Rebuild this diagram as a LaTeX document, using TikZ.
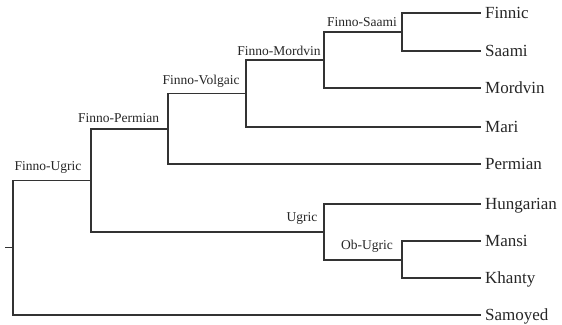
\documentclass[tikz,border=0pt]{standalone}
\usepackage{fontspec}
\setmainfont{Liberation Serif}
\begin{document}
\begin{tikzpicture}[x=1pt,y=-1pt,
  edge/.style={draw=black!80,line width=1.1pt,line cap=rect},
  leaf/.style={anchor=west,inner xsep=5pt,inner ysep=0pt,text height=12pt,text depth=2pt,
    font=\fontsize{17}{17}\selectfont,text=black!85},
  clade/.style={anchor=base,inner sep=0pt,font=\fontsize{13.5}{13.5}\selectfont,text=black!85}]
\useasboundingbox (0,0) rectangle (562,324);
% internal nodes
\coordinate (root) at (13,247.5);
\coordinate (tick) at (6,247.5);
\coordinate (fu) at (91,180.5);
\coordinate (fp) at (168,129);
\coordinate (fv) at (246,93.5);
\coordinate (fm) at (324,60);
\coordinate (fs) at (402,32);
\coordinate (ug) at (324,232);
\coordinate (ob) at (402,260);
% leaves
\node[leaf] (finnic) at (480,13) {Finnic};
\node[leaf] (saami) at (480,51) {Saami};
\node[leaf] (mordvin) at (480,88) {Mordvin};
\node[leaf] (mari) at (480,127) {Mari};
\node[leaf] (permian) at (480,164) {Permian};
\node[leaf] (hungarian) at (480,204) {Hungarian};
\node[leaf] (mansi) at (480,241) {Mansi};
\node[leaf] (khanty) at (480,278) {Khanty};
\node[leaf] (samoyed) at (480,315) {Samoyed};
% edges
\draw[edge] (tick) -- (root);
\draw[edge] (root) |- (fu);
\draw[edge] (root) |- (samoyed.west);
\draw[edge] (fu) |- (fp);
\draw[edge] (fu) |- (ug);
\draw[edge] (fp) |- (fv);
\draw[edge] (fp) |- (permian.west);
\draw[edge] (fv) |- (fm);
\draw[edge] (fv) |- (mari.west);
\draw[edge] (fm) |- (fs);
\draw[edge] (fm) |- (mordvin.west);
\draw[edge] (fs) |- (finnic.west);
\draw[edge] (fs) |- (saami.west);
\draw[edge] (ug) |- (hungarian.west);
\draw[edge] (ug) |- (ob);
\draw[edge] (ob) |- (mansi.west);
\draw[edge] (ob) |- (khanty.west);
% clade labels
\node[clade] (lfu) at (48,170.5) {Finno-Ugric};
\node[clade] (lfp) at (118.5,122.5) {Finno-Permian};
\node[clade] (lfv) at (201,84) {Finno-Volgaic};
\node[clade] (lfm) at (279,55) {Finno-Mordvin};
\node[clade] (lfs) at (362,26.5) {Finno-Saami};
\node[clade] (lug) at (302,221) {Ugric};
\node[clade] (lob) at (367,249) {Ob-Ugric};
\end{tikzpicture}
\end{document}
